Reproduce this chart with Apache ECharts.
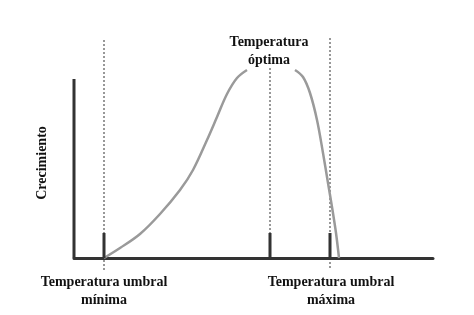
<!DOCTYPE html>
<html>
<head>
<meta charset="utf-8">
<script src="https://cdn.jsdelivr.net/npm/echarts@6/dist/echarts.min.js"></script>
<style>
	html, body { margin: 0; padding: 0; background: #fff; }
	#chart { width: 474px; height: 315px; }
</style>
</head>
<body>
<div id="chart"></div>
<script>
// temperature on x (0..359), growth on y (0..179)
var risingCurve = [[30, 0], [46, 10], [66, 24], [86, 44], [106, 68], [119, 88], [133, 118], [143, 141], [153, 164], [163, 180], [173, 188]]
var fallingCurve = [[221, 188], [229, 181], [236, 165], [243, 138], [249, 105], [254, 75], [258, 51], [262, 25], [265, 0]]
var thresholds = [30, 196, 256] // mínima, óptima, máxima
var guideTop = [220, 190, 220]
var guideBottom = [-12, 0, -10]
var tickHeight = 25
var growthMax = 179

var font = "'Liberation Serif', 'Times New Roman', serif"
var chart = echarts.init(document.getElementById("chart"), null, {renderer: "canvas"})

var series = []
var seg = function(data, color, width, type) {
	series.push({type: "line", data: data, symbol: "none", silent: true, animation: false,
		lineStyle: {color: color, width: width, type: type||"solid"}, z: type? 1: 3})
}
thresholds.forEach(function(x, i) {
	seg([[x, guideBottom[i]], [x, guideTop[i]]], "#333", 1, [2, 2])
	seg([[x, 0], [x, tickHeight]], "#333", 3)
})
seg([[0, 0], [0, growthMax]], "#333", 3)
var curve = function(data) {
	series.push({type: "line", data: data, smooth: 0.35, symbol: "none", animation: false, lineStyle: {color: "#9a9a9a", width: 2.5}, z: 2})
}
curve(risingCurve), curve(fallingCurve)

var text = function(x, y, str, rot) {
	return {type: "text", x: x, y: y, rotation: rot||0, style: {text: str, font: "bold 14px "+font, fill: "#111", align: "center", verticalAlign: "middle", lineHeight: 18}}
}

chart.setOption({
	backgroundColor: "#fff",
	grid: {left: 74, right: 41, top: 38, bottom: 45},
	xAxis: {type: "value", min: 0, max: 359, axisLine: {onZero: true, lineStyle: {color: "#333", width: 3}}, axisTick: {show: false}, axisLabel: {show: false}, splitLine: {show: false}},
	yAxis: {type: "value", min: -12, max: 220, axisLine: {show: false}, axisTick: {show: false}, axisLabel: {show: false}, splitLine: {show: false}},
	series: series,
	graphic: [
		text(269, 51, "Temperatura\nóptima"),
		text(104, 291, "Temperatura umbral\nmínima"),
		text(331, 291, "Temperatura umbral\nmáxima"),
		text(42, 163, "Crecimiento", Math.PI/2),
	],
})
</script>
</body>
</html>
